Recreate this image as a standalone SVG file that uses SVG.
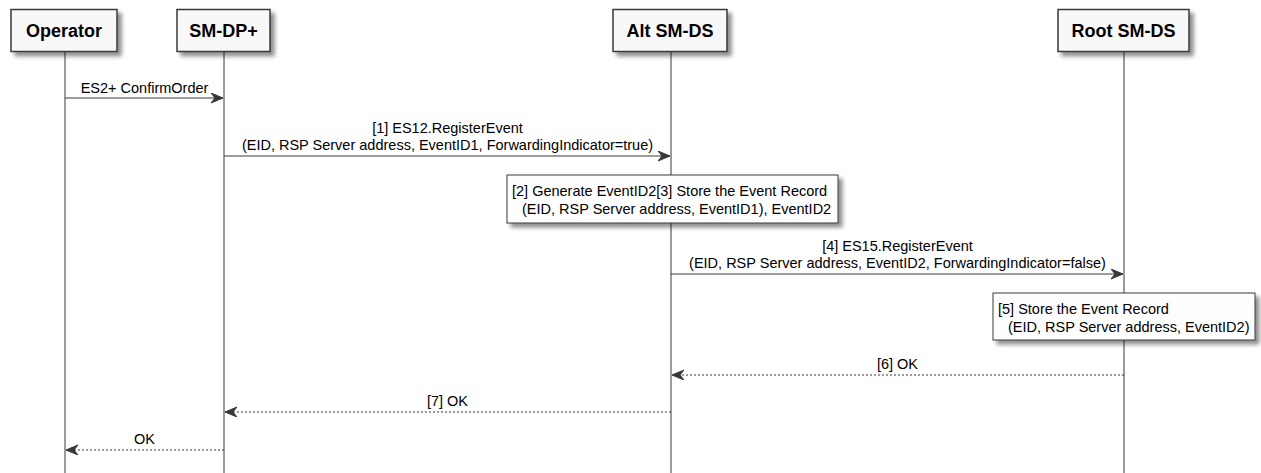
<svg xmlns="http://www.w3.org/2000/svg" width="1261" height="473" viewBox="0 0 1261 473">
<style>
.box{fill:#F8F8F8;stroke:#383838;stroke-width:1.5;filter:url(#sh)}
.note{fill:#FEFEFE;stroke:#383838;stroke-width:1;filter:url(#sh)}
.life{stroke:#383838;stroke-width:1;fill:none}
.msg{stroke:#383838;stroke-width:1;fill:none;marker-end:url(#ah)}
.ret{stroke:#383838;stroke-width:1;fill:none;stroke-dasharray:2,2;marker-end:url(#ah)}
.pt{font-family:"Liberation Sans",Arial,sans-serif;font-weight:bold;font-size:18px;fill:#000;text-anchor:middle}
.mt{font-family:"Liberation Sans",Arial,sans-serif;font-size:14.5px;fill:#000;text-anchor:middle}
.nt{font-family:"Liberation Sans",Arial,sans-serif;font-size:14.5px;fill:#000}
</style>
<defs>
<filter id="sh" x="-10%" y="-10%" width="130%" height="150%">
<feGaussianBlur in="SourceAlpha" stdDeviation="2"/>
<feOffset dx="4" dy="4" result="b"/>
<feComponentTransfer><feFuncA type="linear" slope="0.45"/></feComponentTransfer>
<feMerge><feMergeNode/><feMergeNode in="SourceGraphic"/></feMerge>
</filter>
<marker id="ah" markerUnits="userSpaceOnUse" markerWidth="14" markerHeight="12" refX="12" refY="5" orient="auto">
<path d="M0,0 L12,5 L0,10 L4,5 Z" fill="#383838" stroke="#383838" stroke-width="1"/>
</marker>
</defs>
<g id="lifelines">
<line class="life" x1="65" y1="52" x2="65" y2="473"/>
<line class="life" x1="224" y1="52" x2="224" y2="473"/>
<line class="life" x1="671" y1="52" x2="671" y2="473"/>
<line class="life" x1="1124" y1="52" x2="1124" y2="473"/>
</g>
<g id="operator">
<rect class="box" x="11" y="9.5" width="106" height="42"/>
<text class="pt" x="64" y="37">Operator</text>
</g>
<g id="smdp">
<rect class="box" x="177" y="9.5" width="93" height="42"/>
<text class="pt" x="223.5" y="37">SM-DP+</text>
</g>
<g id="altsmds">
<rect class="box" x="613" y="9.5" width="114" height="42"/>
<text class="pt" x="670" y="37">Alt SM-DS</text>
</g>
<g id="rootsmds">
<rect class="box" x="1058" y="9.5" width="131" height="42"/>
<text class="pt" x="1123.5" y="37">Root SM-DS</text>
</g>
<g id="connectors">
<path class="msg" d="M65,98 H223"/>
<text class="mt" x="144.5" y="93">ES2+ ConfirmOrder</text>
<path class="msg" d="M224,156 H670"/>
<text class="mt" x="447.5" y="133">[1] ES12.RegisterEvent</text>
<text class="mt" x="447.5" y="150">(EID, RSP Server address, EventID1, ForwardingIndicator=true)</text>
<path class="msg" d="M671,274 H1123"/>
<text class="mt" x="897.5" y="251">[4] ES15.RegisterEvent</text>
<text class="mt" x="897.5" y="268">(EID, RSP Server address, EventID2, ForwardingIndicator=false)</text>
<path class="ret" d="M1124,375 H672"/>
<text class="mt" x="897.5" y="369">[6] OK</text>
<path class="ret" d="M671,412 H225"/>
<text class="mt" x="447.5" y="406">[7] OK</text>
<path class="ret" d="M224,450 H66"/>
<text class="mt" x="144.5" y="444">OK</text>
</g>
<g id="note1">
<rect class="note" x="507" y="175" width="331" height="48"/>
<text class="nt" x="512" y="196">[2] Generate EventID2[3] Store the Event Record</text>
<text class="nt" x="522" y="214">(EID, RSP Server address, EventID1), EventID2</text>
</g>
<g id="note2">
<rect class="note" x="993" y="293" width="262" height="47"/>
<text class="nt" x="998" y="314">[5] Store the Event Record</text>
<text class="nt" x="1008" y="332">(EID, RSP Server address, EventID2)</text>
</g>
</svg>
